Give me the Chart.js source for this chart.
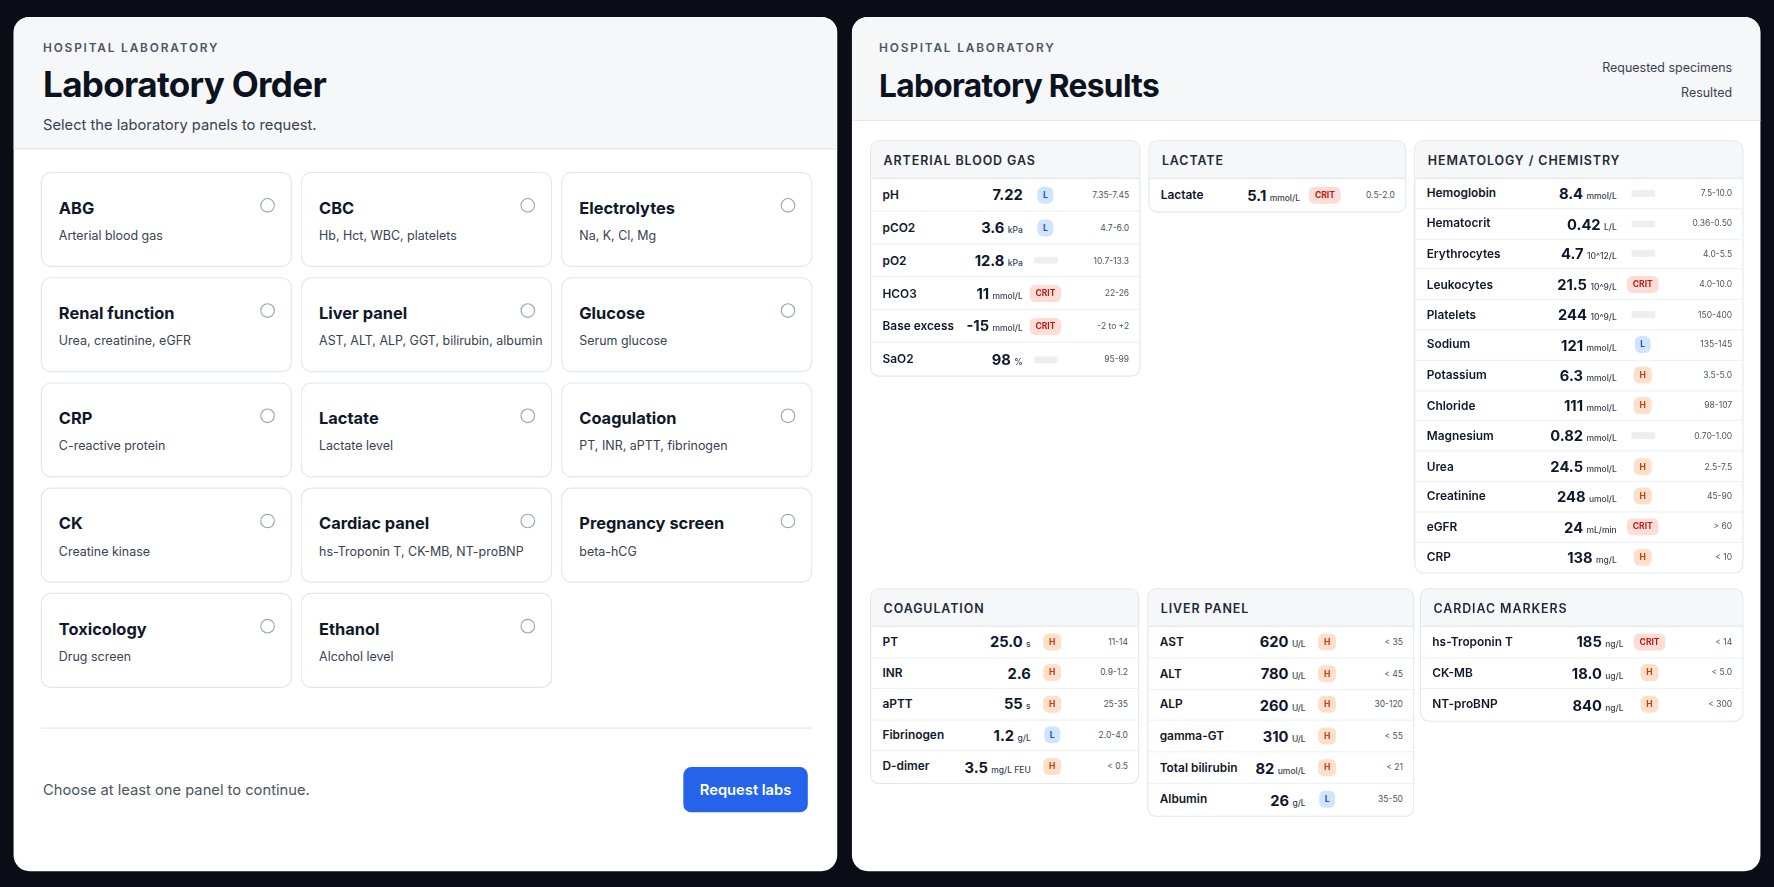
<!DOCTYPE html>
<html><head><meta charset="utf-8">
<script src="https://cdn.jsdelivr.net/npm/chart.js@4.4.0/dist/chart.umd.min.js"></script>
<style>
*{box-sizing:border-box;margin:0;padding:0}
body{width:1774px;height:887px;background:#0a0c16;font-family:Inter,"Noto Sans",sans-serif;color:#0f172a;overflow:hidden}
#wrap{position:absolute;left:0;top:0;width:1568px;height:784px;transform:scale(1.13138);transform-origin:0 0}
.card{position:absolute;background:#fff;border-radius:14px;overflow:hidden}
.hdr{background:#f6f7f9;border-bottom:1px solid #e5e7eb;position:absolute;left:0;right:0;top:0}
.eyebrow{position:absolute;font-size:10.5px;letter-spacing:1.6px;font-weight:600;color:#4b5563}
h1{position:absolute;font-size:31px;font-weight:700;letter-spacing:-0.6px;color:#0b1220}
.sub{position:absolute;font-size:13px;color:#374151}
.opt{position:absolute;width:222px;height:84px;border:1px solid #e3e6eb;border-radius:9px;background:#fff}
.opt b{position:absolute;left:15px;top:22px;font-size:14.5px;font-weight:700}
.opt span{position:absolute;left:15px;top:48px;font-size:11px;color:#374151}
.opt i{position:absolute;right:14px;top:22px;width:13px;height:13px;border:1.3px solid #9ca3af;border-radius:50%}
.panel{position:absolute;border:1px solid #e3e6eb;border-radius:8px;background:#fff;overflow:hidden}
.ph{height:33px;background:#f6f7f9;border-bottom:1px solid #e5e7eb;font-size:11px;font-weight:600;letter-spacing:0.8px;padding:10px 11px;color:#1f2937}
.row{display:grid;align-items:center;border-bottom:1px solid #eef0f3;padding:0 9px 0 10px}
.row:last-child{border-bottom:none}
.n{font-size:10.5px;font-weight:600}
.v{text-align:right;font-size:13px;font-weight:700;white-space:nowrap}
.v small{font-size:7.5px;font-weight:500;color:#374151;margin-left:3px}
.b{display:flex;justify-content:center}
.bd{font-size:7.5px;font-weight:700;border-radius:5px;padding:3px 5px}
.L{background:#cfe5fb;color:#1d4ed8}.H{background:#fde0cc;color:#c2410c}.C{background:#fdddd6;color:#b91c1c}
.r{text-align:right;font-size:7.5px;color:#4b5563;white-space:nowrap}
canvas.t{width:21px!important;height:6px!important}
</style></head><body><div id="wrap">
<div class="card" style="left:12px;top:15px;width:728px;height:755px">
 <div class="hdr" style="height:117px"></div>
 <div class="eyebrow" style="left:26px;top:21px">HOSPITAL LABORATORY</div>
 <h1 style="left:26px;top:41px">Laboratory Order</h1>
 <div class="sub" style="left:26px;top:87px">Select the laboratory panels to request.</div>
 <div id="opts"></div>
 <div style="position:absolute;left:24px;width:682px;top:628px;border-top:1px solid #e5e7eb"></div>
 <div class="sub" style="left:26px;top:675px;color:#4b5563">Choose at least one panel to continue.</div>
 <div style="position:absolute;left:592px;top:663px;width:110px;height:40px;background:#2563eb;border-radius:7px;color:#fff;font-size:13px;font-weight:600;text-align:center;line-height:40px">Request labs</div>
</div>
<div class="card" style="left:753px;top:15px;width:803px;height:755px">
 <div class="hdr" style="height:92px"></div>
 <div class="eyebrow" style="left:24px;top:21px">HOSPITAL LABORATORY</div>
 <h1 style="left:24px;top:44px;font-size:28px">Laboratory Results</h1>
 <div class="sub" style="right:25px;top:38px;font-size:11px">Requested specimens</div>
 <div class="sub" style="right:25px;top:60px;font-size:11px">Resulted</div>
 <div id="panels"></div>
</div>
</div>
<script>
const orderNames=["ABG","CBC","Electrolytes","Renal function","Liver panel","Glucose","CRP","Lactate","Coagulation","CK","Cardiac panel","Pregnancy screen","Toxicology","Ethanol"];
const orderDesc=["Arterial blood gas","Hb, Hct, WBC, platelets","Na, K, Cl, Mg","Urea, creatinine, eGFR","AST, ALT, ALP, GGT, bilirubin, albumin","Serum glucose","C-reactive protein","Lactate level","PT, INR, aPTT, fibrinogen","Creatine kinase","hs-Troponin T, CK-MB, NT-proBNP","beta-hCG","Drug screen","Alcohol level"];
const panelTitles=["ARTERIAL BLOOD GAS","LACTATE","HEMATOLOGY / CHEMISTRY","COAGULATION","LIVER PANEL","CARDIAC MARKERS"];
const testNames=[["pH","pCO2","pO2","HCO3","Base excess","SaO2"],["Lactate"],["Hemoglobin","Hematocrit","Erythrocytes","Leukocytes","Platelets","Sodium","Potassium","Chloride","Magnesium","Urea","Creatinine","eGFR","CRP"],["PT","INR","aPTT","Fibrinogen","D-dimer"],["AST","ALT","ALP","gamma-GT","Total bilirubin","Albumin"],["hs-Troponin T","CK-MB","NT-proBNP"]];
const testValues=[["7.22","3.6","12.8","11","-15","98"],["5.1"],["8.4","0.42","4.7","21.5","244","121","6.3","111","0.82","24.5","248","24","138"],["25.0","2.6","55","1.2","3.5"],["620","780","260","310","82","26"],["185","18.0","840"]];
const testUnits=[["","kPa","kPa","mmol/L","mmol/L","%"],["mmol/L"],["mmol/L","L/L","10^12/L","10^9/L","10^9/L","mmol/L","mmol/L","mmol/L","mmol/L","mmol/L","umol/L","mL/min","mg/L"],["s","","s","g/L","mg/L FEU"],["U/L","U/L","U/L","U/L","umol/L","g/L"],["ng/L","ug/L","ng/L"]];
const testFlags=[["L","L","","CRIT","CRIT",""],["CRIT"],["","","","CRIT","","L","H","H","","H","H","CRIT","H"],["H","H","H","L","H"],["H","H","H","H","H","L"],["CRIT","H","H"]];
const testRanges=[["7.35-7.45","4.7-6.0","10.7-13.3","22-26","-2 to +2","95-99"],["0.5-2.0"],["7.5-10.0","0.36-0.50","4.0-5.5","4.0-10.0","150-400","135-145","3.5-5.0","98-107","0.70-1.00","2.5-7.5","45-90","> 60","< 10"],["11-14","0.9-1.2","25-35","2.0-4.0","< 0.5"],["< 35","< 45","30-120","< 55","< 21","35-50"],["< 14","< 5.0","< 300"]];
const trackValues=[1];
const opts=document.getElementById('opts');
orderNames.forEach((n,i)=>{const c=i%3,r=Math.floor(i/3);const d=document.createElement('div');d.className='opt';d.style.left=(24+c*230)+'px';d.style.top=(137+r*93)+'px';d.innerHTML=`<b>${n}</b><span>${orderDesc[i]}</span><i></i>`;opts.appendChild(d);});
const geo=[[16,109,239,29,"1fr auto 40px 54px"],[262,109,228,29,"1fr auto 44px 40px"],[497,109,291,26.8,"1fr auto 46px 56px"],[16,505,238,27.5,"1fr auto 38px 48px"],[261,505,236,27.8,"1fr auto 38px 48px"],[502,505,286,27.5,"1fr auto 46px 50px"]];
const P=document.getElementById('panels');const tracks=[];
panelTitles.forEach((t,p)=>{const g=geo[p];const d=document.createElement('div');d.className='panel';d.style.left=g[0]+'px';d.style.top=g[1]+'px';d.style.width=g[2]+'px';
 let h=`<div class="ph">${t}</div>`;
 testNames[p].forEach((n,k)=>{const f=testFlags[p][k];const id=`t${p}_${k}`;
  const badge=f?`<span class="bd ${f==='CRIT'?'C':f}">${f}</span>`:`<canvas class="t" id="${id}" width="21" height="6"></canvas>`;
  if(!f)tracks.push(id);
  h+=`<div class="row" style="height:${g[3]}px;grid-template-columns:${g[4]}"><div class="n">${n}</div><div class="v">${testValues[p][k]}${testUnits[p][k]?'<small>'+testUnits[p][k]+'</small>':''}</div><div class="b">${badge}</div><div class="r">${testRanges[p][k]}</div></div>`;});
 d.innerHTML=h;P.appendChild(d);});
tracks.forEach(id=>{new Chart(document.getElementById(id),{type:'bar',data:{labels:[''],datasets:[{data:trackValues,backgroundColor:'#eceef2',borderRadius:3,borderSkipped:false,barPercentage:1,categoryPercentage:1}]},options:{indexAxis:'y',responsive:false,animation:false,layout:{padding:0},plugins:{legend:{display:false},tooltip:{enabled:false}},scales:{x:{display:false,min:0,max:1},y:{display:false}}}});});
</script>
</body></html>
